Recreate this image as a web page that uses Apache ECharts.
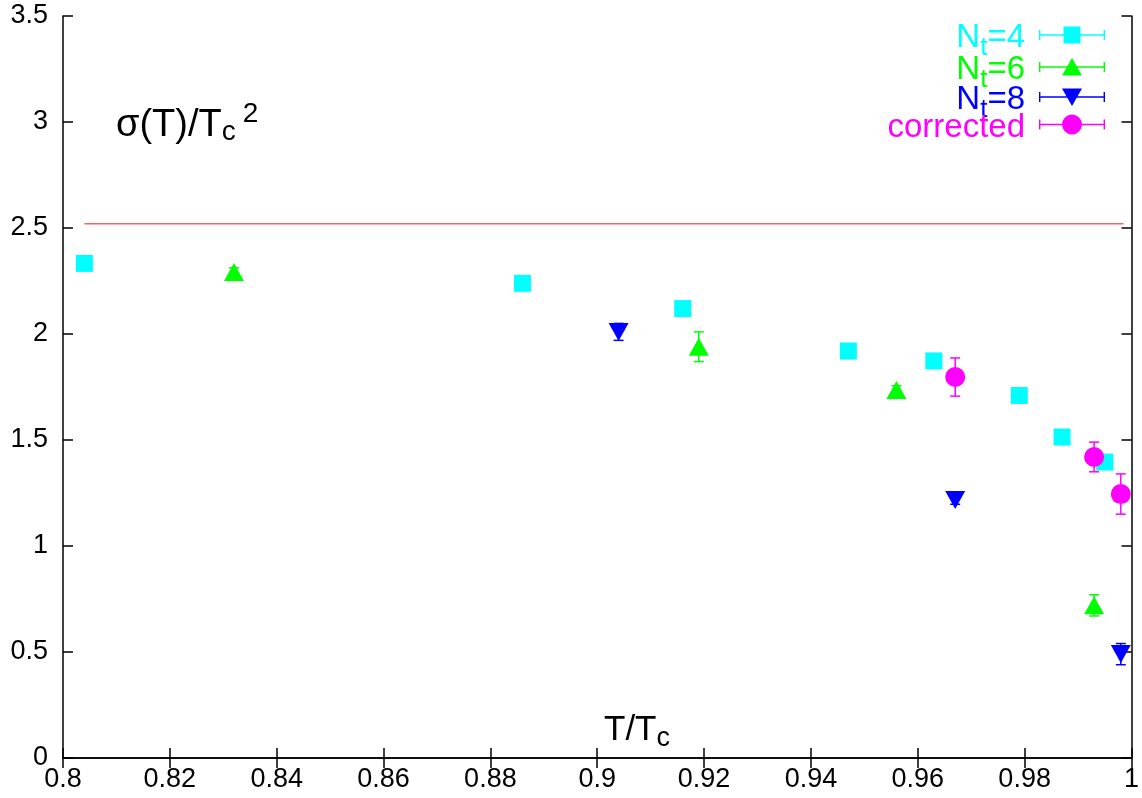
<!DOCTYPE html>
<html><head><meta charset="utf-8">
<script src="https://cdn.jsdelivr.net/npm/echarts@6/dist/echarts.min.js"></script>
<style>html,body{margin:0;padding:0;background:#fff}#c{width:1142px;height:798px}</style>
</head><body><div id="c"></div>
<script>
// ---- data ----
const xTicks = [0.8, 0.82, 0.84, 0.86, 0.88, 0.9, 0.92, 0.94, 0.96, 0.98, 1.0];
const yTicks = [0, 0.5, 1, 1.5, 2, 2.5, 3, 3.5];
const nt4X = [0.804, 0.886, 0.916, 0.947, 0.963, 0.979, 0.987, 0.995];
const nt4Y = [2.333, 2.239, 2.12, 1.92, 1.873, 1.71, 1.514, 1.396];
const nt4Err = [0.01, 0.01, 0.01, 0.01, 0.01, 0.01, 0.01, 0.01];
const nt6X = [0.832, 0.919, 0.956, 0.993];
const nt6Y = [2.292, 1.94, 1.736, 0.72];
const nt6Err = [0.02, 0.07, 0.02, 0.05];
const nt8X = [0.904, 0.967, 0.998];
const nt8Y = [2.01, 1.217, 0.49];
const nt8Err = [0.04, 0.02, 0.05];
const corrX = [0.967, 0.993, 0.998];
const corrY = [1.797, 1.42, 1.245];
const corrErr = [0.09, 0.07, 0.095];
const refLineX = [0.804, 0.9985];
const refLineY = 2.52;
const seriesNames = ['N_t=4', 'N_t=6', 'N_t=8', 'corrected'];
const seriesColors = ['#00ffff', '#00ff00', '#0000ff', '#ff00ff'];

const FONT = '"Liberation Sans", Arial, Helvetica, sans-serif';

function pts(xs, ys) { return xs.map((x, i) => [x, ys[i]]); }
function errPts(xs, ys, es) { return xs.map((x, i) => [x, ys[i] - es[i], ys[i] + es[i]]); }

function errSeries(xs, ys, es, color, name) {
  return {
    type: 'custom', name: name, z: 3,
    data: errPts(xs, ys, es),
    encode: { x: 0, y: [1, 2] },
    renderItem: function (params, api) {
      const lo = api.coord([api.value(0), api.value(1)]);
      const hi = api.coord([api.value(0), api.value(2)]);
      const w = 5;
      const st = { stroke: color, lineWidth: 1.5, fill: null };
      return { type: 'group', children: [
        { type: 'line', shape: { x1: lo[0], y1: lo[1], x2: hi[0], y2: hi[1] }, style: st },
        { type: 'line', shape: { x1: lo[0] - w, y1: lo[1], x2: lo[0] + w, y2: lo[1] }, style: st },
        { type: 'line', shape: { x1: hi[0] - w, y1: hi[1], x2: hi[0] + w, y2: hi[1] }, style: st }
      ]};
    },
    silent: true
  };
}

const base = 'M0,9.3 H66 V10.7 H0 Z M0,5 H1.4 V15 H0 Z M64.6,5 H66 V15 H64.6 Z M0,0 L0.01,0 L0.01,0.01 Z M0,20 L0.01,20 L0.01,19.99 Z ';
const icons = [
  'path://' + base + 'M24.5,1.5 H41.5 V18.5 H24.5 Z',
  'path://' + base + 'M33,1 L43,18.5 L23,18.5 Z',
  'path://' + base + 'M23,1.5 L43,1.5 L33,19 Z',
  'path://' + base + 'M43,10 A10,10 0 1 1 23,10 A10,10 0 1 1 43,10 Z'
];
const legendTops = [37, 69, 99, 128];
const legendShift = [-22, -22, -22, -17];

function fmtName(n) {
  const m = n.match(/^N_t(=.*)$/);
  if (m) return '{n|N}{s|t}{n|' + m[1] + '}';
  return '{n|' + n + '}';
}

const legends = seriesNames.map((nm, i) => ({
  orient: 'vertical', align: 'right', right: 37, top: legendTops[i] + legendShift[i],
  padding: 0, itemWidth: 66, itemHeight: 20, selectedMode: false,
  formatter: fmtName,
  data: [{ name: nm, icon: icons[i], textStyle: { color: seriesColors[i] } }],
  textStyle: {
    fontFamily: FONT, color: seriesColors[i], padding: [6, 9, 0, 0],
    rich: {
      n: { fontSize: 33, lineHeight: 46, fontFamily: FONT, color: seriesColors[i] },
      s: { fontSize: 26, lineHeight: 26, padding: [20, 0, 0, 0], verticalAlign: 'top', fontFamily: FONT, color: seriesColors[i] }
    }
  }
}));

function tickFmt(v) { return String(parseFloat(v.toFixed(2))); }

const axisCommon = {
  axisLine: { show: true, lineStyle: { color: '#000', width: 1.5 } },
  axisTick: { show: true, inside: true, length: 10, lineStyle: { color: '#000', width: 1.5 } },
  splitLine: { show: false }
};

const option = {
  backgroundColor: '#fff',
  animation: false,
  grid: { left: 63, right: 10, top: 16, bottom: 40 },
  legend: legends,
  xAxis: [
    Object.assign({}, axisCommon, {
      type: 'value', min: xTicks[0], max: xTicks[xTicks.length - 1], interval: 0.02, position: 'bottom',
      axisLabel: { show: true, formatter: tickFmt, fontSize: 27, fontFamily: FONT, color: '#000', margin: 8 }
    }),
    Object.assign({}, axisCommon, {
      type: 'value', min: xTicks[0], max: xTicks[xTicks.length - 1], interval: 0.02, position: 'top',
      axisLabel: { show: false }
    })
  ],
  yAxis: [
    Object.assign({}, axisCommon, {
      type: 'value', min: yTicks[0], max: yTicks[yTicks.length - 1], interval: 0.5, position: 'left',
      axisLabel: { show: true, formatter: tickFmt, fontSize: 27, fontFamily: FONT, color: '#000', margin: 15 }
    }),
    Object.assign({}, axisCommon, {
      type: 'value', min: yTicks[0], max: yTicks[yTicks.length - 1], interval: 0.5, position: 'right',
      axisLabel: { show: false }
    })
  ],
  graphic: [
    { type: 'text', left: 116, top: 100, style: {
        text: '{m|σ(T)/T}{s|c}{p|2}', fontFamily: FONT, fill: '#000',
        rich: {
          m: { fontSize: 38, lineHeight: 52, fontFamily: FONT, fill: '#000' },
          s: { fontSize: 28, lineHeight: 28, padding: [18, 0, 0, 0], verticalAlign: 'top', fontFamily: FONT, fill: '#000' },
          p: { fontSize: 28, lineHeight: 28, padding: [0, 0, 0, 7], verticalAlign: 'top', fontFamily: FONT, fill: '#000' }
        } } },
    { type: 'text', left: 604, top: 707, style: {
        text: '{m|T/T}{s|c}', fontFamily: FONT, fill: '#000',
        rich: {
          m: { fontSize: 35, lineHeight: 46, fontFamily: FONT, fill: '#000' },
          s: { fontSize: 27, lineHeight: 27, padding: [18, 0, 0, 0], verticalAlign: 'top', fontFamily: FONT, fill: '#000' }
        } } }
  ],
  series: [
    { type: 'line', name: 'ref', data: refLineX.map(x => [x, refLineY]), symbol: 'none',
      lineStyle: { color: '#ff6060', width: 1.5 }, silent: true, z: 1 },
    errSeries(nt4X, nt4Y, nt4Err, seriesColors[0], 'e4'),
    errSeries(nt6X, nt6Y, nt6Err, seriesColors[1], 'e6'),
    errSeries(nt8X, nt8Y, nt8Err, seriesColors[2], 'e8'),
    errSeries(corrX, corrY, corrErr, seriesColors[3], 'ec'),
    { type: 'scatter', name: seriesNames[0], data: pts(nt4X, nt4Y), symbol: 'rect', symbolSize: 17,
      itemStyle: { color: seriesColors[0], opacity: 1 }, z: 4 },
    { type: 'scatter', name: seriesNames[1], data: pts(nt6X, nt6Y), symbol: 'triangle', symbolSize: [20, 18],
      itemStyle: { color: seriesColors[1], opacity: 1 }, z: 4 },
    { type: 'scatter', name: seriesNames[2], data: pts(nt8X, nt8Y), symbol: 'triangle', symbolRotate: 180, symbolSize: [20, 18],
      itemStyle: { color: seriesColors[2], opacity: 1 }, z: 4 },
    { type: 'scatter', name: seriesNames[3], data: pts(corrX, corrY), symbol: 'circle', symbolSize: 20,
      itemStyle: { color: seriesColors[3], opacity: 1 }, z: 4 }
  ]
};

const chart = echarts.init(document.getElementById('c'), null, { renderer: 'canvas' });
chart.setOption(option);
</script>
</body></html>
